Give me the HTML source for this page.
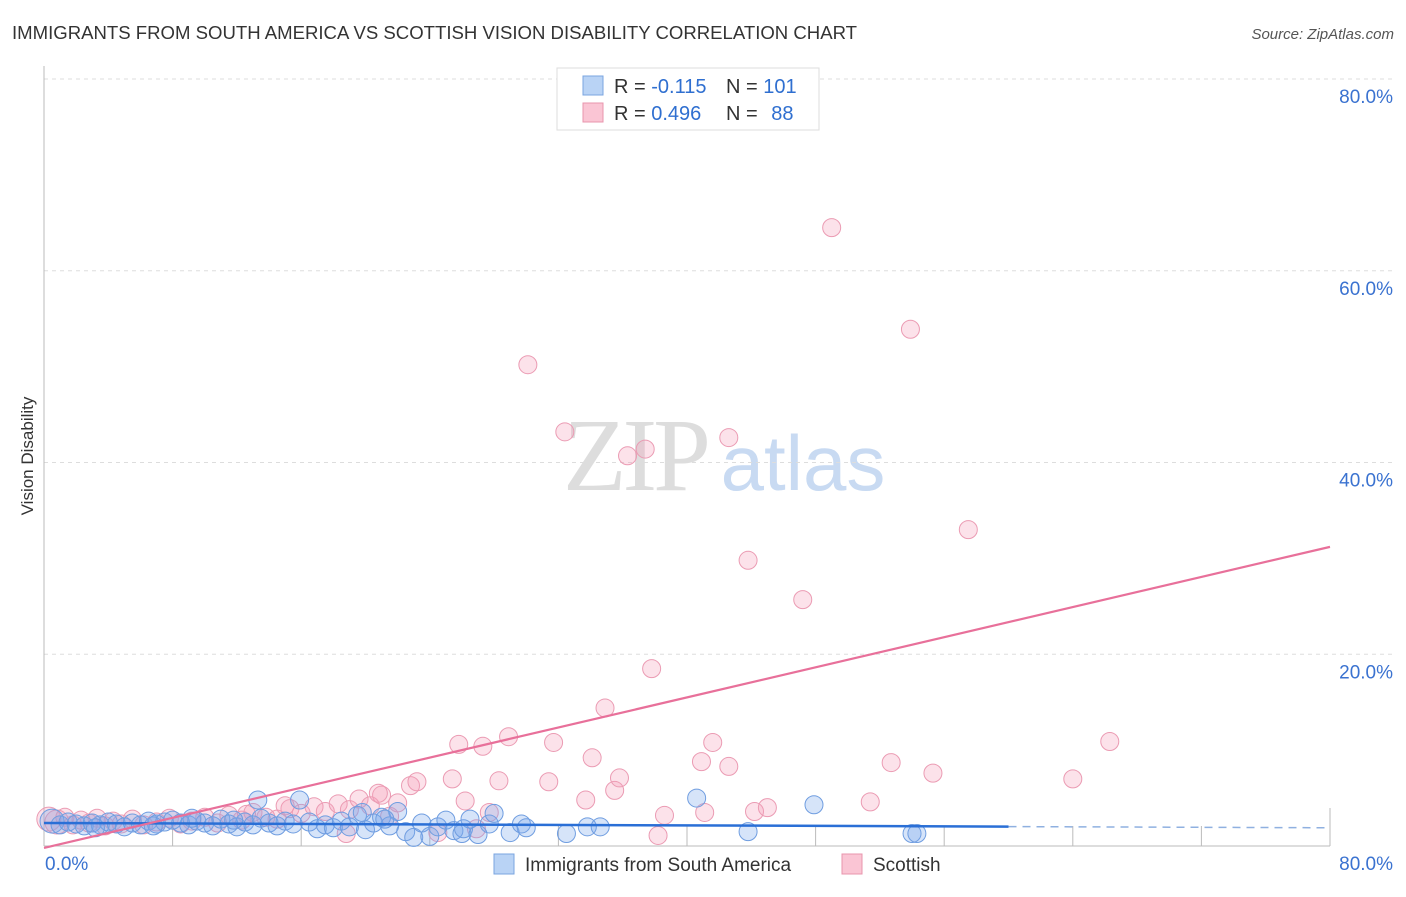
<!DOCTYPE html>
<html><head><meta charset="utf-8"><style>
body{margin:0;background:#fff;width:1406px;height:892px;overflow:hidden;font-family:"Liberation Sans",sans-serif}
</style></head><body>
<svg id="chart" width="1406" height="892" xmlns="http://www.w3.org/2000/svg" font-family="Liberation Sans, sans-serif">
<text x="12" y="39" font-size="18" fill="#333" textLength="845" lengthAdjust="spacingAndGlyphs">IMMIGRANTS FROM SOUTH AMERICA VS SCOTTISH VISION DISABILITY CORRELATION CHART</text>
<text x="1394" y="39" font-size="15" fill="#555" text-anchor="end" font-style="italic">Source: ZipAtlas.com</text>
<text transform="translate(33,456) rotate(-90)" font-size="17" fill="#333" text-anchor="middle">Vision Disability</text>
<g>
<text x="635" y="490" font-size="104" fill="#ddd" text-anchor="middle" font-family="Liberation Serif, serif" letter-spacing="-4">ZIP</text>
<text x="803" y="490" font-size="78" fill="#c8daf2" text-anchor="middle">atlas</text>
</g>
<g id="grid"></g><g id="pink"></g><g id="blue"></g><g id="trends"></g>
<g>
<rect x="557" y="68" width="262" height="62" fill="#fff" stroke="#ddd"/>
<rect x="583" y="76" width="20" height="19" fill="#b9d3f5" stroke="#7aa5e0"/>
<rect x="583" y="103" width="20" height="19" fill="#fac5d4" stroke="#e895ad"/>
<text x="614" y="93" font-size="20" fill="#333">R = <tspan fill="#2f6fd0">-0.115</tspan></text>
<text x="726" y="93" font-size="20" fill="#333">N = <tspan fill="#2f6fd0">101</tspan></text>
<text x="614" y="120" font-size="20" fill="#333">R = <tspan fill="#2f6fd0">0.496</tspan></text>
<text x="726" y="120" font-size="20" fill="#333">N = <tspan fill="#2f6fd0" dx="8">88</tspan></text>
</g>
<g>
<rect x="494" y="854" width="20" height="20" fill="#b9d3f5" stroke="#7aa5e0"/>
<text x="525" y="871" font-size="19" fill="#333">Immigrants from South America</text>
<rect x="842" y="854" width="20" height="20" fill="#fac5d4" stroke="#e895ad"/>
<text x="873" y="871" font-size="19" fill="#333">Scottish</text>
</g>
</svg>
<script>
const yTicks=[20,40,60,80];
const yTickLabels=["20.0%","40.0%","60.0%","80.0%"];
const xMin=0,xMax=80;
const blueX=[0.5,1,1.5,2,2.5,3,3.5,4,4.5,5,5.5,6,6.5,7,7.5,8,8.5,9,9.5,10,10.5,11,11.5,12,12.5,13,13.3,13.5,14,14.5,15,15.5,15.9,16.5,17,17.5,18,18.5,19,19.5,20,20.5,21,21.5,22,22.5,23,23.5,24,24.5,25,25.5,26,26.1,26.5,27,27.7,28,29,29.7,30,32.5,33.8,34.6,40.6,43.8,47.9,54.0,54.3,19.8,21.2,11.8,9.2,6.8,3.2];
const blueY=[2.6,2.2,2.5,2.3,2.1,2.4,2.2,2.5,2.3,2.0,2.4,2.2,2.6,2.3,2.5,2.7,2.4,2.2,2.6,2.4,2.1,2.8,2.3,2.0,2.5,2.2,4.8,2.9,2.4,2.1,2.6,2.3,4.8,2.5,1.8,2.2,1.9,2.6,2.0,3.2,1.7,2.4,3.0,2.1,3.6,1.5,0.9,2.4,1.0,2.0,2.7,1.6,1.3,1.8,2.8,1.2,2.3,3.4,1.4,2.3,1.9,1.3,2.0,2.0,5.0,1.5,4.3,1.3,1.3,3.5,2.8,2.7,2.9,2.1,1.9];
const pinkX=[0.3,0.8,1.3,1.8,2.3,2.8,3.3,3.8,4.3,4.8,5.5,6.2,7,7.8,8.5,9.2,10,10.8,11.5,12.3,13,13.8,14.5,15.3,16,16.8,17.5,18.3,19,19.6,20.3,21,21.5,22,22.8,23.2,25.4,25.8,26.2,26.9,27.3,27.7,28.3,28.9,30.1,31.4,31.7,32.4,33.7,34.1,34.9,35.5,35.8,36.3,37.4,37.8,38.2,38.6,40.9,41.1,41.6,42.6,42.6,43.8,44.2,45.0,47.2,49.0,51.4,52.7,53.9,55.3,57.5,64.0,66.3,24.5,20.8,18.8,15.0,12.6];
const pinkY=[2.8,2.5,3.0,2.2,2.7,2.4,2.9,2.1,2.6,2.3,2.8,2.2,2.5,2.9,2.3,2.6,3.0,2.4,3.2,2.7,3.5,3.0,2.8,3.9,3.4,4.1,3.6,4.4,3.8,4.9,4.2,5.3,3.1,4.5,6.3,6.7,7.0,10.6,4.7,1.8,10.4,3.5,6.8,11.4,50.2,6.7,10.8,43.2,4.8,9.2,14.4,5.8,7.1,40.7,41.4,18.5,1.1,3.2,8.8,3.5,10.8,42.6,8.3,29.8,3.6,4.0,25.7,64.5,4.6,8.7,53.9,7.6,33.0,7.0,10.9,1.4,5.5,1.3,4.2,3.3];
const blueTrend=[2.4,1.9];const pinkTrend=[-0.2,31.2];
const L=44,R=1330,T=79,B=846;
function xs(v){return L+(v-xMin)/(xMax-xMin)*(R-L);}
function ys(v){return B-v/80*(B-T);}
const NS="http://www.w3.org/2000/svg";
function mk(tag,attrs,parent){const e=document.createElementNS(NS,tag);for(const k in attrs)e.setAttribute(k,attrs[k]);parent.appendChild(e);return e;}
const grid=document.getElementById('grid');
yTicks.forEach((t,i)=>{
 const l=mk('line',{x1:L,x2:1394,y1:ys(t),y2:ys(t),stroke:'#ddd','stroke-dasharray':'4,4'},grid);
 
 
 const tx=mk('text',{x:1393,y:ys(t)+24,'font-size':19,fill:'#3a72d0','text-anchor':'end'},grid);
 tx.textContent=yTickLabels[i];
 
 
});
const ax=mk('line',{x1:L,x2:R,y1:B,y2:B,stroke:'#bbb'},grid);


const ay=mk('line',{x1:L,x2:L,y1:66,y2:B,stroke:'#bbb'},grid);


for(let i=1;i<=10;i++){const x=xs(i*8);const tk=mk('line',{x1:x,x2:x,y1:B-(i==10?38:20),y2:B,stroke:'#bbb'},grid);
 
 }
const x0=mk('text',{x:45,y:870,'font-size':19,fill:'#3a72d0'},grid);x0.textContent='0.0%';


const x1=mk('text',{x:1393,y:870,'font-size':19,fill:'#3a72d0','text-anchor':'end'},grid);x1.textContent='80.0%';


function pts(X,Y,g,fill,stroke,name){X.forEach((v,i)=>{const c=mk('circle',{cx:xs(v),cy:ys(Y[i]),r:v<1?12:9,fill:fill,stroke:stroke,'stroke-width':1},g);
 
 });}
pts(pinkX,pinkY,document.getElementById('pink'),'rgba(245,160,185,0.3)','#eb9bb3','scottish-point');
pts(blueX,blueY,document.getElementById('blue'),'rgba(120,165,235,0.3)','#6f9de0','immigrants-point');
const tg=document.getElementById('trends');
const bt=(v)=>blueTrend[0]+(blueTrend[1]-blueTrend[0])*v/80;
const l1=mk('line',{x1:xs(0),y1:ys(bt(0)),x2:xs(60),y2:ys(bt(60)),stroke:'#2a6fd6','stroke-width':2.5},tg);


const l2=mk('line',{x1:xs(60),y1:ys(bt(60)),x2:xs(80),y2:ys(bt(80)),stroke:'#8fb0e0','stroke-width':1.5,'stroke-dasharray':'8,6'},tg);


const l3=mk('line',{x1:xs(0),y1:ys(pinkTrend[0]),x2:xs(80),y2:ys(pinkTrend[1]),stroke:'#e8709a','stroke-width':2.2},tg);


</script>
</body></html>
